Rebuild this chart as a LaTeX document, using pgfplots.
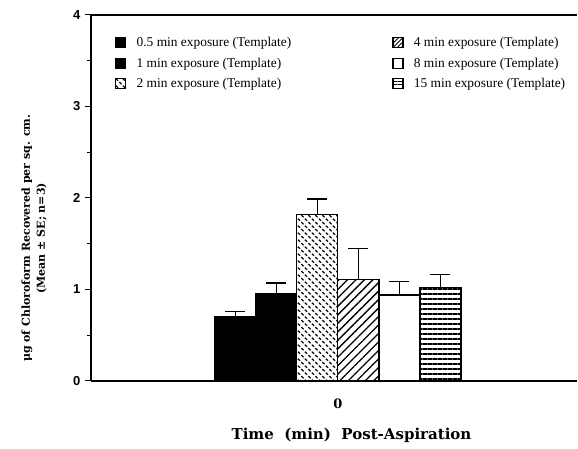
\documentclass[border=0pt]{standalone}
\usepackage{pgfplots}
\pgfplotsset{compat=1.18}
\usepackage{fontspec}
\setmainfont{Liberation Serif}
\newfontfamily\sansb{Liberation Sans}
\newfontfamily\labf{DejaVu Serif}
\usetikzlibrary{patterns,patterns.meta}

\pgfdeclarepatternformonly{dashgrid}{\pgfqpoint{-1pt}{-1pt}}{\pgfqpoint{8pt}{8pt}}{\pgfqpoint{7pt}{7pt}}{
  \pgfsetlinewidth{1.2pt}
  \pgfpathmoveto{\pgfqpoint{0.3pt}{2.8pt}}\pgfpathlineto{\pgfqpoint{2.6pt}{0.8pt}}
  \pgfpathmoveto{\pgfqpoint{3.8pt}{6.3pt}}\pgfpathlineto{\pgfqpoint{6.1pt}{4.3pt}}
  \pgfusepath{stroke}}

\pgfplotsset{
  mybar/.style={ybar, bar width=1, bar shift=0pt, draw=black, line width=1.2pt,
    /pgfplots/error bars/y dir=plus, /pgfplots/error bars/y explicit,
    /pgfplots/error bars/error bar style={line width=1.2pt, solid},
    /pgfplots/error bars/error mark options={rotate=90, mark size=10pt, line width=1.2pt, solid}},
  legbox/.style={legend image code/.code={\draw[line width=1.2pt,##1] (0pt,-5pt) rectangle (10pt,5pt); \path[draw=none,fill=none] (0pt,0pt) rectangle (19pt,0.1pt);}}
}

\begin{document}
\begin{tikzpicture}
\useasboundingbox (-91pt,-68pt) rectangle (487pt,381pt);
\begin{axis}[
  at={(0,0)}, anchor=south west,
  scale only axis, width=486pt, height=366pt,
  xmin=-6.02, xmax=5.83, ymin=0, ymax=4,
  axis lines*=left,
  axis line style={line width=1.2pt},
  clip=false,
  tick align=outside,
  ytick={0,1,2,3,4},
  minor ytick={0.5,1.5,2.5,3.5},
  major tick length=6pt, minor tick length=3.5pt,
  every tick/.style={black, line width=1pt},
  xtick={0}, xticklabels={0},
  major x tick style={draw=none},
  /pgf/number format/assume math mode=true,
  yticklabel style={font=\sansb\bfseries\fontsize{13}{15}\selectfont, xshift=-1pt},
  xticklabel style={font=\labf\bfseries\fontsize{13}{15}\selectfont, yshift=-8pt},
  xlabel={Time~~(min)~~Post-Aspiration},
  xlabel style={font=\labf\bfseries\fontsize{15}{17}\selectfont, at={(axis description cs:0.536,-0.149)}, anchor=center},
  ylabel={μg of Chloroform Recovered per sq. cm.\\(Mean ± SE; n=3)},
  ylabel style={font=\labf\bfseries\fontsize{11}{15}\selectfont, align=center, at={(axis description cs:-0.117,0.39)}, anchor=center},
  legend columns=2,
  legend cell align=left,
  legend style={draw=none, fill=none, at={(axis description cs:0.043,0.950)}, anchor=north west,
    font=\fontsize{13.4}{15}\selectfont, row sep=5.5pt,
    /tikz/every even column/.append style={column sep=99pt}},
]
\addlegendimage{legbox, fill=black}
\addlegendentry{0.5 min exposure (Template)}
\addlegendimage{legbox, pattern={Lines[angle=45, distance=3pt, line width=1pt]}}
\addlegendentry{4 min exposure (Template)}
\addlegendimage{legbox, fill=black}
\addlegendentry{1 min exposure (Template)}
\addlegendimage{legbox, fill=white}
\addlegendentry{8 min exposure (Template)}
\addlegendimage{legbox, pattern=dashgrid}
\addlegendentry{2 min exposure (Template)}
\addlegendimage{legbox, pattern={Lines[angle=0, distance=3.5pt, line width=1pt]}}
\addlegendentry{15 min exposure (Template)}

\addplot[mybar, fill=black, forget plot] coordinates {(-2.5,0.70) +- (0,0.06)};
\addplot[mybar, fill=black, forget plot] coordinates {(-1.5,0.96) +- (0,0.11)};
\addplot[mybar, fill=white, postaction={pattern=dashgrid}, forget plot] coordinates {(-0.5,1.82) +- (0,0.17)};
\addplot[mybar, fill=white, postaction={pattern={Lines[angle=45, distance=6pt, line width=1.3pt]}}, forget plot] coordinates {(0.5,1.11) +- (0,0.34)};
\addplot[mybar, fill=white, forget plot] coordinates {(1.5,0.94) +- (0,0.15)};
\addplot[mybar, fill=white, postaction={pattern={Lines[angle=0, distance=5pt, line width=1.3pt]}}, forget plot] coordinates {(2.5,1.02) +- (0,0.14)};
\end{axis}
\draw[line width=1.2pt] (0pt,366pt) -- (486pt,366pt);
\end{tikzpicture}
\end{document}
